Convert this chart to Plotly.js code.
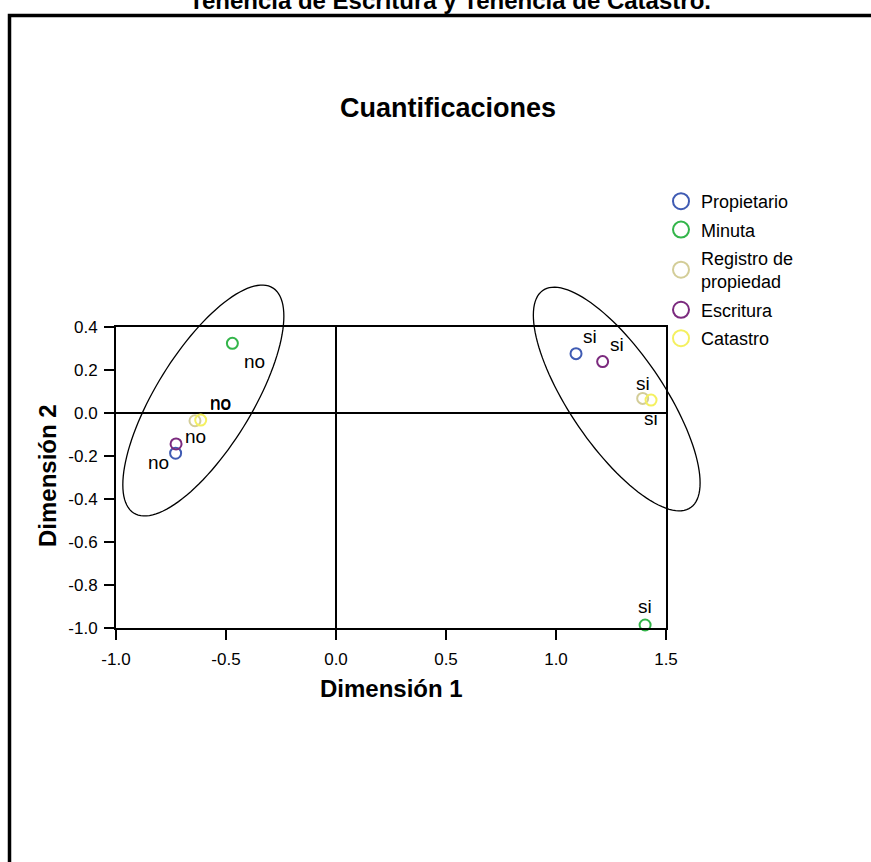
<!DOCTYPE html>
<html><head><meta charset="utf-8">
<script src="https://cdn.plot.ly/plotly-3.0.1.min.js"></script>
<style>html,body{margin:0;padding:0;background:#fff;overflow:hidden}#chart{width:871px;height:862px}</style>
</head><body><div id="chart"></div>
<script>
// ---- data ----
const categories = ['Propietario', 'Minuta', 'Registro de<br>propiedad', 'Escritura', 'Catastro'];
const pointLabels = ['no', 'si'];
const propietarioX = [-0.729, 1.091];
const propietarioY = [-0.187, 0.276];
const minutaX = [-0.471, 1.405];
const minutaY = [0.324, -0.986];
const registroX = [-0.641, 1.394];
const registroY = [-0.036, 0.068];
const escrituraX = [-0.727, 1.212];
const escrituraY = [-0.144, 0.239];
const catastroX = [-0.615, 1.432];
const catastroY = [-0.033, 0.060];
const xTickVals = [-1.0, -0.5, 0.0, 0.5, 1.0, 1.5];
const xTickText = ['-1.0', '-0.5', '0.0', '0.5', '1.0', '1.5'];
const yTickVals = [0.4, 0.2, 0.0, -0.2, -0.4, -0.6, -0.8, -1.0];
const yTickText = ['0.4', '0.2', '0.0', '-0.2', '-0.4', '-0.6', '-0.8', '-1.0'];
const titleText = 'Tenencia de Escritura y Tenencia de Catastro.';
const chartTitle = 'Cuantificaciones';
const xTitle = 'Dimensión 1';
const yTitle = 'Dimensión 2';

// ---- style ----
const colors = ['#3f5bb3', '#33b54a', '#d3cd98', '#7b2a7e', '#f4f060'];
// label offsets in px [no, si] per category: [xshift, yshift]
const labelShifts = [
  [[-17, -9], [14, 17]],
  [[22, -18], [0, 18]],
  [[26, 18], [0, 15]],
  [[19, 7], [14, 17]],
  [[20, 17], [0, -18]]
];
const FONT = 'Liberation Sans, Arial, sans-serif';
const W = 871, H = 862;
const M = {l: 116, r: 205, t: 327, b: 234};
const PW = W - M.l - M.r, PH = H - M.t - M.b;
const xRange = [-1.0, 1.5], yRange = [-1.0, 0.4];

const xs = [propietarioX, minutaX, registroX, escrituraX, catastroX];
const ys = [propietarioY, minutaY, registroY, escrituraY, catastroY];

const traces = [];
categories.forEach((name, i) => {
  traces.push({
    type: 'scatter', mode: 'markers', name: name, legendgroup: 'g' + i, showlegend: false,
    x: xs[i], y: ys[i], cliponaxis: false,
    marker: {symbol: 'circle-open', size: 11, color: colors[i], line: {width: 2, color: colors[i]}},
    hoverinfo: 'x+y+name'
  });
});
// legend entries (larger symbols, no plotted points)
categories.forEach((name, i) => {
  traces.push({
    type: 'scatter', mode: 'markers', name: name, legendgroup: 'g' + i, showlegend: true,
    x: [null], y: [null],
    marker: {symbol: 'circle-open', size: 16, color: colors[i], line: {width: 2, color: colors[i]}},
    hoverinfo: 'skip'
  });
});

const annotations = [];
categories.forEach((name, i) => {
  pointLabels.forEach((lab, j) => {
    annotations.push({
      x: xs[i][j], y: ys[i][j], xref: 'x', yref: 'y', text: lab, showarrow: false,
      xanchor: 'center', yanchor: 'middle',
      xshift: labelShifts[i][j][0], yshift: labelShifts[i][j][1],
      font: {family: FONT, size: 19, color: '#000'}
    });
  });
});
// px -> paper
const pxX = p => (p - M.l) / PW;
const pxY = p => (H - M.b - p) / PH;
const dX = v => (v - xRange[0]) / (xRange[1] - xRange[0]);
const dY = v => (v - yRange[0]) / (yRange[1] - yRange[0]);

function paperText(text, px, py, size, angle) {
  return {xref: 'paper', yref: 'paper', x: pxX(px), y: pxY(py), xanchor: 'center', yanchor: 'middle',
          text: '<b>' + text + '</b>', showarrow: false, textangle: angle || 0,
          font: {family: FONT, size: size, color: '#000'}};
}
annotations.push(paperText(titleText, 450, 0, 24));
annotations.push(paperText(chartTitle, 448, 108, 27));
annotations.push(paperText(xTitle, 391, 688, 24));
annotations.push(paperText(yTitle, 47, 476, 24, -90));

// ellipses (center, half-extents, correlation) in data units
function ellipsePath(cx, cy, hx, hy, r) {
  let d = '';
  const n = 120, s = Math.sqrt(1 - r * r);
  for (let k = 0; k <= n; k++) {
    const t = 2 * Math.PI * k / n;
    const x = cx + hx * Math.cos(t);
    const y = cy + hy * (r * Math.cos(t) + s * Math.sin(t));
    d += (k === 0 ? 'M' : 'L') + dX(x).toFixed(5) + ',' + dY(y).toFixed(5);
  }
  return d + 'Z';
}
const shapes = [
  {type: 'path', xref: 'paper', yref: 'paper', path: ellipsePath(-0.603, 0.058, 0.366, 0.537, 0.73), line: {color: '#000', width: 1.3}},
  {type: 'path', xref: 'paper', yref: 'paper', path: ellipsePath(1.276, 0.065, 0.379, 0.520, -0.75), line: {color: '#000', width: 1.3}},
  {type: 'rect', xref: 'paper', yref: 'paper', x0: pxX(9.5), x1: pxX(890), y0: pxY(15.5), y1: pxY(890), line: {color: '#000', width: 3.5}}
];

const axisCommon = {
  showline: true, mirror: true, linewidth: 2, linecolor: '#000',
  ticks: 'outside', ticklen: 10, tickwidth: 2, tickcolor: '#000',
  zeroline: true, zerolinewidth: 2, zerolinecolor: '#000',
  showgrid: false, tickfont: {family: FONT, size: 17, color: '#000'}, fixedrange: true
};

const layout = {
  width: W, height: H, margin: M, paper_bgcolor: '#fff', plot_bgcolor: '#fff',
  xaxis: Object.assign({}, axisCommon, {range: xRange, tickmode: 'array', tickvals: xTickVals, ticktext: xTickText, ticklabelstandoff: 5}),
  yaxis: Object.assign({}, axisCommon, {range: yRange, tickmode: 'array', tickvals: yTickVals, ticktext: yTickText, ticklabelstandoff: 3}),
  showlegend: true,
  legend: {x: pxX(661), y: pxY(183), xanchor: 'left', yanchor: 'top', bgcolor: 'rgba(0,0,0,0)', borderwidth: 0,
           font: {family: FONT, size: 18, color: '#000'}, tracegroupgap: 2, itemsizing: 'trace'},
  annotations: annotations, shapes: shapes
};
Plotly.newPlot('chart', traces, layout, {displayModeBar: false, staticPlot: true});
</script></body></html>
